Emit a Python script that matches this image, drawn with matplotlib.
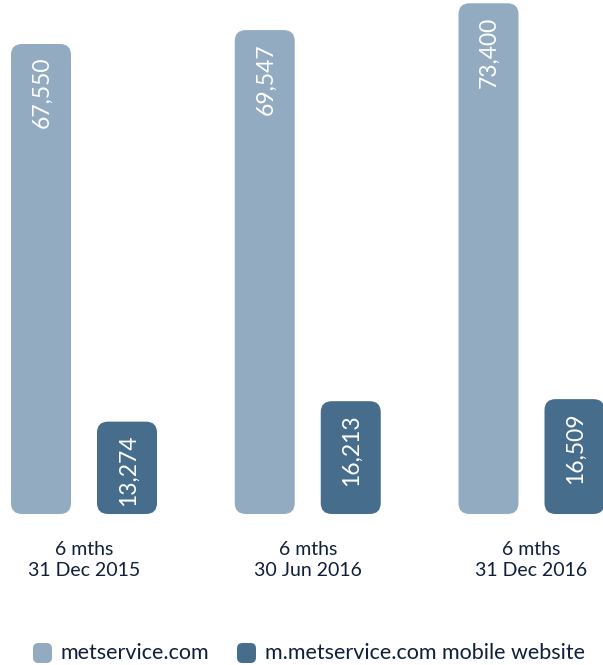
import matplotlib
matplotlib.use("Agg")
import matplotlib.pyplot as plt
from matplotlib.patches import FancyBboxPatch
import numpy as np

categories = ["6 mths\n31 Dec 2015", "6 mths\n30 Jun 2016", "6 mths\n31 Dec 2016"]
desktop = [67550, 69547, 73400]
mobile = [13274, 16213, 16509]
series_names = ["metservice.com", "m.metservice.com mobile website"]

LIGHT = "#93abc1"
DARK = "#476d8d"
NAVY = "#0f1f3a"

plt.rcParams["font.family"] = ["Lato", "DejaVu Sans"]

W, H = 603, 665
fig = plt.figure(figsize=(W / 100, H / 100), dpi=100)
base_px = 514  # baseline in pixels from top
ax = fig.add_axes([0, (H - base_px) / H, 1, base_px / H])

spacing = 223.75  # px between group centres
x0 = 84
ax.set_xlim(-x0 / spacing, (W - x0) / spacing)
ymax = base_px / 0.006958
ax.set_ylim(0, ymax)
ax.axis("off")

bw = 60 / spacing
off = 43 / spacing
xu_per_px = 1 / spacing
yu_per_px = ymax / base_px
aspect = yu_per_px / xu_per_px
r = 11 * xu_per_px

x = np.arange(len(categories))
for xs, vals, col in [(x - off, desktop, LIGHT), (x + off, mobile, DARK)]:
    for xi, v in zip(xs, vals):
        p = FancyBboxPatch((xi - bw / 2, 0), bw, v,
                           boxstyle="round,pad=0,rounding_size=%f" % r,
                           mutation_aspect=aspect, fc=col, ec="none")
        ax.add_patch(p)
        ax.annotate(f"{v:,}", (xi, v), xytext=(1, -13), textcoords="offset pixels",
                    rotation=90, ha="center", va="top", color="white", fontsize=16.5)

for xi, lab in zip(x, categories):
    ax.annotate(lab, (xi, 0), xytext=(0, -27), textcoords="offset pixels",
                ha="center", va="top", color=NAVY, fontsize=14, linespacing=1.3,
                annotation_clip=False)

# legend
legend_items = [(33, LIGHT, 60, series_names[0]), (237, DARK, 265, series_names[1])]
for px, col, tx, name in legend_items:
    sq = FancyBboxPatch((px / W, (H - 663) / H), 19 / W, 20 / H,
                        boxstyle="round,pad=0,rounding_size=0.009",
                        mutation_aspect=W / H,
                        transform=fig.transFigure, fc=col, ec="none")
    fig.patches.append(sq)
    fig.text(tx / W, (H - 653) / H, name, color=NAVY, fontsize=15.5,
             ha="left", va="center")

fig.savefig("out.png", dpi=100)
